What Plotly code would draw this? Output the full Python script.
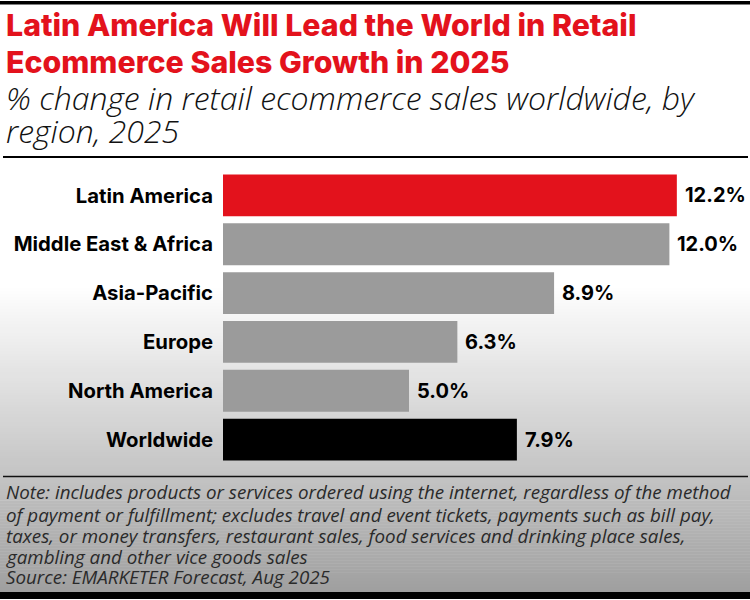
import plotly.graph_objects as go

regions = ["Latin America", "Middle East & Africa", "Asia-Pacific", "Europe", "North America", "Worldwide"]
growth = [12.2, 12.0, 8.9, 6.3, 5.0, 7.9]
value_labels = ["12.2%", "12.0%", "8.9%", "6.3%", "5.0%", "7.9%"]
bar_colors = ["#E3121C", "#9B9B9B", "#9B9B9B", "#9B9B9B", "#9B9B9B", "#000000"]

title_lines = ["Latin America Will Lead the World in Retail", "Ecommerce Sales Growth in 2025"]
subtitle_lines = ["% change in retail ecommerce sales worldwide, by", "region, 2025"]
note_lines = [
    "Note: includes products or services ordered using the internet, regardless of the method",
    "of payment or fulfillment; excludes travel and event tickets, payments such as bill pay,",
    "taxes, or money transfers, restaurant sales, food services and drinking place sales,",
    "gambling and other vice goods sales",
    "Source: EMARKETER Forecast, Aug 2025",
]

W, H = 750, 600
PL, PR = 223, 2
PT, PB = 170.5, 600 - 464.5
plot_w = W - PL - PR
plot_h = H - PT - PB
px_per_unit = 37.2


def xp(px):
    return (px - PL) / plot_w


def yp(py):
    return (H - PB - py) / plot_h


fig = go.Figure()
fig.add_trace(go.Bar(
    x=growth, y=regions, orientation="h",
    marker=dict(color=bar_colors, line=dict(width=0)),
    hoverinfo="skip",
))

shapes = []
# vertical gradient background (white -> gray)
g_start, g_end = 285, 597
c_end = 158
step = 3
shapes.append(dict(type="rect", xref="paper", yref="paper", x0=xp(0), x1=xp(W), y0=yp(g_start), y1=yp(0),
                   fillcolor="white", line=dict(width=0), layer="below"))
py = g_start
while py < H:
    t = min(max((py + step / 2 - g_start) / (g_end - g_start), 0), 1)
    v = round(255 - (255 - c_end) * t)
    shapes.append(dict(type="rect", xref="paper", yref="paper", x0=xp(0), x1=xp(W),
                       y0=yp(min(py + step + 0.5, H)), y1=yp(py),
                       fillcolor=f"rgb({v},{v},{v})", line=dict(width=0), layer="below"))
    py += step

# rules
shapes.append(dict(type="rect", xref="paper", yref="paper", x0=xp(0), x1=xp(W), y0=yp(3.5), y1=yp(0),
                   fillcolor="black", line=dict(width=0), layer="above"))
shapes.append(dict(type="line", xref="paper", yref="paper", x0=xp(3), x1=xp(748), y0=yp(156.5), y1=yp(156.5),
                   line=dict(color="black", width=2), layer="above"))
shapes.append(dict(type="line", xref="paper", yref="paper", x0=xp(3), x1=xp(748), y0=yp(477), y1=yp(477),
                   line=dict(color="#111111", width=1.5), layer="above"))
shapes.append(dict(type="rect", xref="paper", yref="paper", x0=xp(0), x1=xp(W), y0=yp(600), y1=yp(593),
                   fillcolor="black", line=dict(width=0), layer="above"))

annotations = []
for i, line in enumerate(title_lines):
    annotations.append(dict(text=line, xref="paper", yref="paper", x=xp(4), y=yp([24.5, 61.5][i]),
                            xanchor="left", yanchor="middle", showarrow=False,
                            font=dict(family="Inter", size=30.3, color="#E3121C", weight=800)))
for i, line in enumerate(subtitle_lines):
    annotations.append(dict(text=f"<i>{line}</i>", xref="paper", yref="paper", x=xp(4), y=yp([97, 130][i]),
                            xanchor="left", yanchor="middle", showarrow=False,
                            font=dict(family="Open Sans", size=32, color="#111111", weight=300)))
note_y = [493, 515.5, 537, 558, 578]
for i, line in enumerate(note_lines):
    annotations.append(dict(text=f"<i>{line}</i>", xref="paper", yref="paper", x=xp(4), y=yp(note_y[i]),
                            xanchor="left", yanchor="middle", showarrow=False,
                            font=dict(family="Open Sans", size=18.8, color="#2a2a2a")))
for r, v, lab in zip(regions, growth, value_labels):
    annotations.append(dict(text=lab, x=v, y=r, xref="x", yref="y", xanchor="left", yanchor="middle",
                            xshift=6, showarrow=False,
                            font=dict(family="Inter", size=20, color="black", weight=700)))

fig.update_layout(
    width=W, height=H,
    margin=dict(l=PL, r=PR, t=PT, b=PB, pad=0),
    paper_bgcolor="white", plot_bgcolor="rgba(0,0,0,0)",
    showlegend=False, bargap=0.145,
    shapes=shapes, annotations=annotations,
    xaxis=dict(range=[0, plot_w / px_per_unit], visible=False, fixedrange=True),
    yaxis=dict(autorange="reversed", showgrid=False, zeroline=False, showline=False, ticks="",
               ticklabelstandoff=9,
               tickfont=dict(family="Inter", size=20.3, color="black", weight=700), fixedrange=True),
)

fig.write_html("out.html", config={"displayModeBar": False},
               post_script="document.body.style.margin='0';document.body.style.padding='0';")
